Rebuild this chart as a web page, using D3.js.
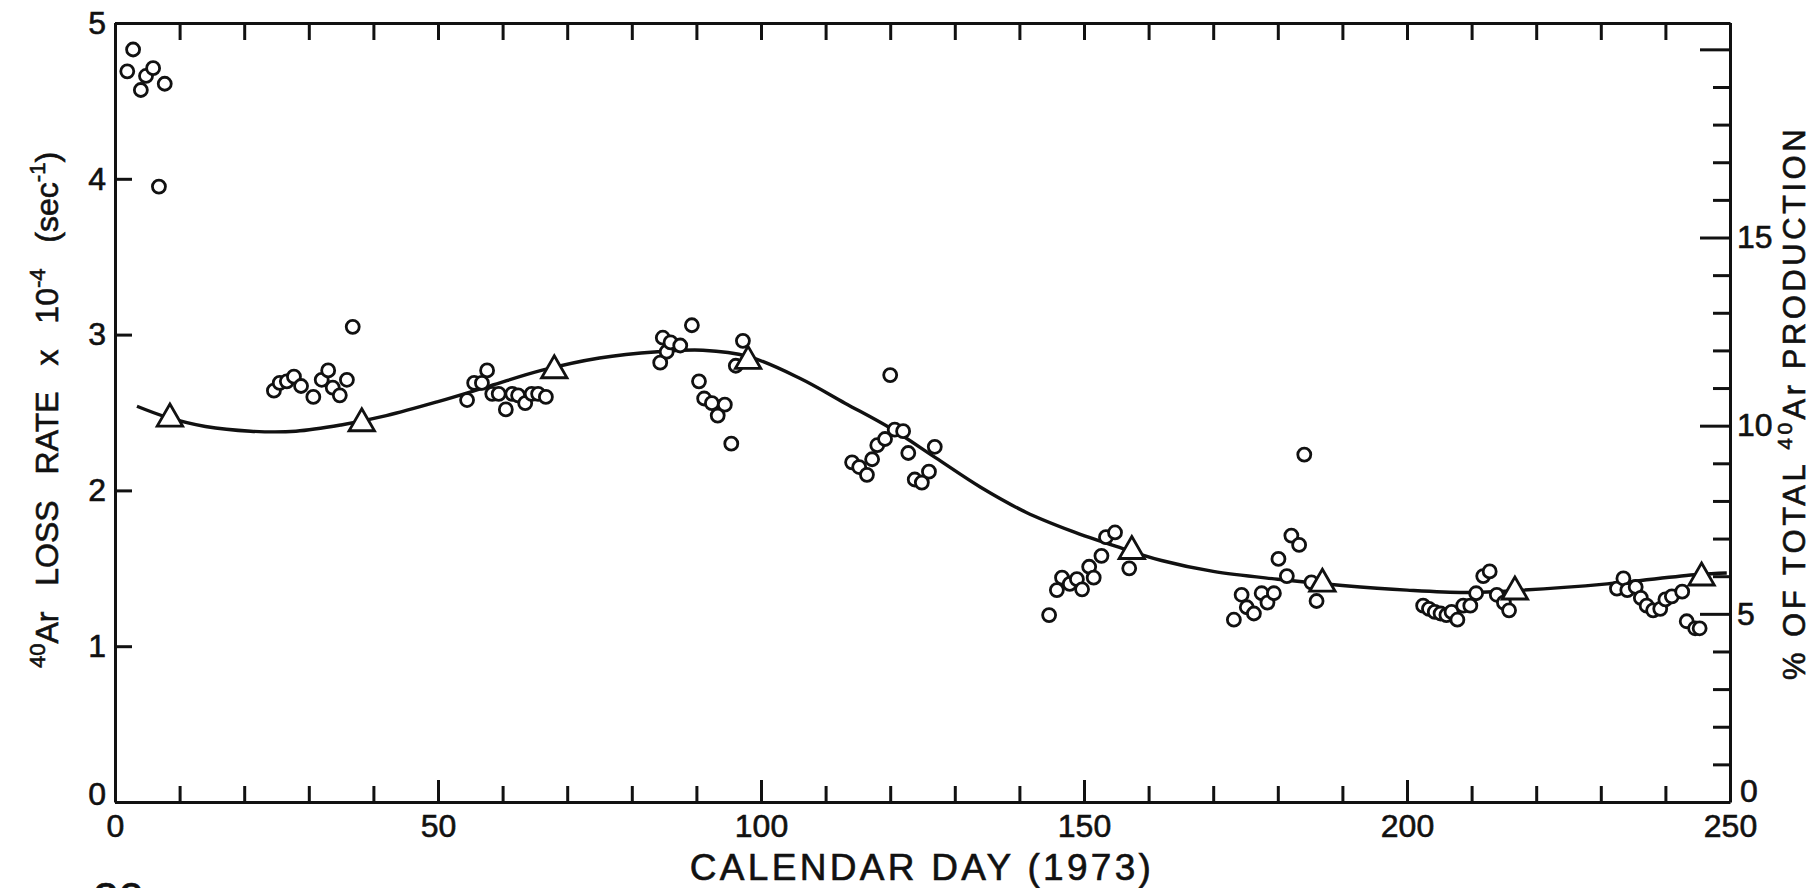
<!DOCTYPE html>
<html lang="en">
<head>
<meta charset="utf-8">
<style type="text/css">
    body { margin: 0; background: #fff; }
    svg { display: block; font-family: "Liberation Sans", Arial, sans-serif; }
    .axis path, .axis line { stroke: #111; stroke-width: 3px; }
    .axis text { font-size: 32px; fill: #111; stroke: #111; stroke-width: 0.6px; font-family: "Liberation Sans", Arial, sans-serif; }
    .label { fill: #111; stroke: #111; stroke-width: 0.6px; }
</style>
</head>
<body>
<svg width="1813" height="888"></svg>

<script src="https://d3js.org/d3.v7.min.js"></script>
<script type="text/javascript">
    // measured loss rate (open circles), day of 1973 / rate x 10^-4 per sec
    var pointDays = [
        1.9, 2.8, 4.0, 4.8, 5.9, 7.7, 6.8,
        24.6, 25.5, 26.6, 27.7, 28.8, 30.7, 32.0, 33.0, 33.7, 34.8, 35.9, 36.8,
        54.5, 55.6, 56.8, 57.6, 58.4, 59.4, 60.5, 61.5, 62.4, 63.5, 64.5, 65.5, 66.7,
        84.4, 84.8, 85.4, 86.0, 87.5, 89.3, 90.4, 91.2, 92.4, 93.3, 94.4, 95.4, 96.1, 97.2,
        114.1, 115.2, 116.4, 117.2, 118.0, 119.2, 120.0, 120.7, 122.0, 122.8, 123.8, 124.9, 126.0, 126.9,
        144.6, 145.8, 146.6, 147.8, 148.9, 149.7, 150.8, 151.5, 152.7, 153.4, 154.8, 157.0,
        173.2, 174.4, 175.2, 176.3, 177.5, 178.4, 179.4, 180.1, 181.4, 182.1, 183.3, 184.1, 185.2, 186.0,
        202.5, 203.4, 204.3, 205.2, 206.1, 206.9, 207.8, 208.7, 209.8, 210.7, 211.8, 212.8, 213.9, 215.0, 215.8,
        232.5, 233.5, 234.1, 235.4, 236.2, 237.1, 238.1, 239.2, 240.0, 241.0, 242.6, 243.3, 244.6, 245.3
    ];
    var pointRates = [
        4.69, 4.83, 4.57, 4.66, 4.71, 4.61, 3.95,
        2.64, 2.69, 2.70, 2.73, 2.67, 2.60, 2.71, 2.77, 2.66, 2.61, 2.71, 3.05,
        2.58, 2.69, 2.69, 2.77, 2.62, 2.62, 2.52, 2.62, 2.61, 2.56, 2.62, 2.62, 2.60,
        2.82, 2.98, 2.89, 2.95, 2.93, 3.06, 2.70, 2.59, 2.56, 2.48, 2.55, 2.30, 2.80, 2.96,
        2.18, 2.15, 2.10, 2.20, 2.29, 2.33, 2.74, 2.39, 2.38, 2.24, 2.07, 2.05, 2.12, 2.28,
        1.20, 1.36, 1.44, 1.40, 1.43, 1.365, 1.51, 1.44, 1.58, 1.70, 1.73, 1.50,
        1.17, 1.33, 1.25, 1.21, 1.34, 1.28, 1.34, 1.56, 1.45, 1.71, 1.65, 2.23, 1.41, 1.29,
        1.26, 1.24, 1.22, 1.21, 1.20, 1.22, 1.17, 1.26, 1.26, 1.34, 1.45, 1.48, 1.33, 1.28, 1.23,
        1.37, 1.435, 1.36, 1.38, 1.31, 1.26, 1.23, 1.24, 1.30, 1.32, 1.35, 1.16, 1.115, 1.115
    ];

    // 30-day averages (triangles)
    var avgDays  = [8.5, 38.2, 68.0, 98.0, 157.4, 186.9, 216.7, 245.6];
    var avgRates = [2.46, 2.43, 2.77, 2.83, 1.61, 1.40, 1.35, 1.44];

    // smooth fitted curve
    var curveDays  = [3.4, 8, 14, 21, 28, 35, 42, 50, 58, 66, 75, 84, 91, 98, 106, 113, 120, 127,
                      134, 141, 148, 155, 162, 170, 180, 190, 200, 209, 218, 231, 245, 249.5];
    var curveRates = [2.54, 2.47, 2.41, 2.38, 2.38, 2.42, 2.48, 2.57, 2.67, 2.77, 2.85, 2.89, 2.90, 2.86, 2.72, 2.56, 2.40, 2.21,
                      2.02, 1.86, 1.74, 1.64, 1.55, 1.48, 1.43, 1.39, 1.36, 1.345, 1.36, 1.40, 1.46, 1.47];

    var dayTicks  = d3.range(0, 251, 10);
    var rateTicks = [0, 1, 2, 3, 4, 5];
    var pctTicks  = d3.range(0, 21, 1);
    var pctLabels = [0, 5, 10, 15];

    var svg = d3.select("svg");

    var x = d3.scaleLinear().domain([0, 250]).range([115, 1730]);
    var y = d3.scaleLinear().domain([0, 5]).range([802, 23]);
    var yPct = d3.scaleLinear().domain([0, 20.7]).range([802, 23]);

    // axes, ticks drawn inside the frame
    var bottom = svg.append("g").attr("class", "axis")
        .attr("transform", "translate(0,802)")
        .call(d3.axisBottom(x).tickValues(dayTicks).tickSizeInner(-16).tickSizeOuter(0).tickPadding(12)
            .tickFormat(function (d) { return d % 50 === 0 ? d : ""; }));
    bottom.selectAll(".tick line").attr("y2", function (d) { return d % 50 === 0 ? -22 : -16; });

    svg.append("g").attr("class", "axis")
        .attr("transform", "translate(0,23)")
        .call(d3.axisTop(x).tickValues(dayTicks).tickSizeInner(-17).tickSizeOuter(0).tickFormat(""));

    var left = svg.append("g").attr("class", "axis")
        .attr("transform", "translate(115,0)")
        .call(d3.axisLeft(y).tickValues(rateTicks).tickSizeInner(-17).tickSizeOuter(0).tickPadding(9)
            .tickFormat(d3.format("d")));
    left.selectAll(".tick text").filter(function (d) { return d === 0; }).attr("y", -8);

    var right = svg.append("g").attr("class", "axis")
        .attr("transform", "translate(1730,0)")
        .call(d3.axisRight(yPct).tickValues(pctTicks).tickSizeInner(-17).tickSizeOuter(0).tickPadding(7)
            .tickFormat(function (d) { return pctLabels.indexOf(d) >= 0 ? d : ""; }));
    right.selectAll(".tick line").attr("x2", function (d) { return d === 0 ? 0 : (d % 5 === 0 ? -30 : -17); });
    right.selectAll(".tick text").filter(function (d) { return d === 0; }).attr("y", -11).attr("x", 10);

    // fitted curve
    var line = d3.line()
        .x(function (d) { return x(d[0]); })
        .y(function (d) { return y(d[1]); })
        .curve(d3.curveCatmullRom);

    svg.append("path")
        .datum(d3.zip(curveDays, curveRates))
        .attr("d", line)
        .attr("fill", "none")
        .attr("stroke", "#111")
        .attr("stroke-width", 3.4);

    svg.selectAll(".pt")
        .data(d3.zip(pointDays, pointRates))
        .enter()
        .append("circle")
        .attr("class", "pt")
        .attr("cx", function (d) { return x(d[0]); })
        .attr("cy", function (d) { return y(d[1]); })
        .attr("r", 6.5)
        .attr("fill", "#fff")
        .attr("stroke", "#111")
        .attr("stroke-width", 2.8);

    svg.selectAll(".avg")
        .data(d3.zip(avgDays, avgRates))
        .enter()
        .append("path")
        .attr("class", "avg")
        .attr("d", d3.symbol().type(d3.symbolTriangle).size(280))
        .attr("transform", function (d) { return "translate(" + x(d[0]) + "," + y(d[1]) + ")"; })
        .attr("fill", "#fff")
        .attr("stroke", "#111")
        .attr("stroke-width", 2.8);

    // titles
    svg.append("text")
        .attr("class", "label")
        .attr("x", 922)
        .attr("y", 880)
        .attr("text-anchor", "middle")
        .style("font-size", "37px")
        .style("letter-spacing", "3.3px")
        .text("CALENDAR DAY (1973)");

    var yl = svg.append("text")
        .attr("class", "label")
        .attr("transform", "translate(58,410) rotate(-90)")
        .attr("text-anchor", "middle")
        .style("font-size", "32px")
        .style("word-spacing", "17px");
    yl.append("tspan").style("font-size", "22px").attr("dy", -13).text("40");
    yl.append("tspan").attr("dy", 13).text("Ar LOSS RATE x 10");
    yl.append("tspan").style("font-size", "22px").attr("dy", -13).text("-4");
    yl.append("tspan").attr("dy", 13).text(" (sec");
    yl.append("tspan").style("font-size", "22px").attr("dy", -13).text("-1");
    yl.append("tspan").attr("dy", 13).text(")");

    var yr = svg.append("text")
        .attr("class", "label")
        .attr("transform", "translate(1805,403) rotate(-90)")
        .attr("text-anchor", "middle")
        .style("font-size", "31px")
        .style("letter-spacing", "3.5px");
    yr.append("tspan").text("% OF TOTAL ");
    yr.append("tspan").style("font-size", "21px").attr("dy", -13).text("40");
    yr.append("tspan").attr("dy", 13).text("Ar PRODUCTION");

    // figure number, cut by the page edge as in the original scan
    svg.append("text")
        .attr("class", "label")
        .attr("x", 93)
        .attr("y", 915)
        .style("font-size", "46px")
        .text("20");
</script>
</body>
</html>
